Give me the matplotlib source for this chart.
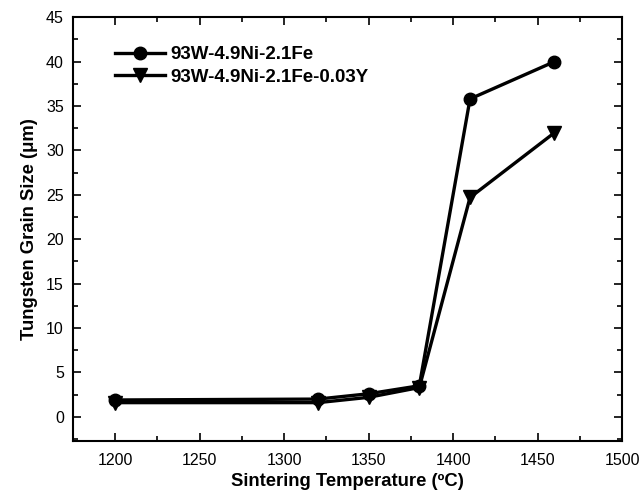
import matplotlib.pyplot as plt
from matplotlib.ticker import MultipleLocator

plt.rcParams['font.family'] = ['Liberation Sans', 'DejaVu Sans']

temp = [1200, 1320, 1350, 1380, 1410, 1460]
grain_base = [1.9, 2.0, 2.6, 3.5, 35.8, 40.0]
grain_y = [1.6, 1.6, 2.2, 3.3, 24.7, 32.0]
labels = ['93W-4.9Ni-2.1Fe', '93W-4.9Ni-2.1Fe-0.03Y']

fig = plt.figure(figsize=(6.4, 4.92), dpi=100)
ax = fig.add_axes([0.114, 0.104, 0.858, 0.861])

ax.plot(temp, grain_base, color='black', lw=2.4, marker='o', ms=9, label=labels[0])
ax.plot(temp, grain_y, color='black', lw=2.4, marker='v', ms=10, label=labels[1])

ax.set_xlim(1175, 1500)
ax.set_ylim(-2.7, 45)
ax.xaxis.set_major_locator(MultipleLocator(50))
ax.xaxis.set_minor_locator(MultipleLocator(25))
ax.yaxis.set_major_locator(MultipleLocator(5))
ax.yaxis.set_minor_locator(MultipleLocator(2.5))
ax.tick_params(which='both', direction='in', top=True, right=True, width=1.2, labelsize=11.5)
ax.tick_params(which='major', length=6)
ax.tick_params(which='minor', length=3.5)
ax.tick_params(axis='x', pad=8.5)
ax.tick_params(axis='y', pad=6.5)
for s in ax.spines.values():
    s.set_linewidth(1.5)

ax.set_xlabel('Sintering Temperature (ºC)', fontsize=13.3, fontweight='bold', labelpad=4)
ax.set_ylabel('Tungsten Grain Size (μm)', fontsize=13.3, fontweight='bold', labelpad=6)

ax.legend(loc='upper left', frameon=False, prop={'weight': 'bold', 'size': 13.5},
          handlelength=2.7, handletextpad=0.3, labelspacing=0.3,
          bbox_to_anchor=(0.045, 0.972))

fig.savefig('out.png', dpi=100)
